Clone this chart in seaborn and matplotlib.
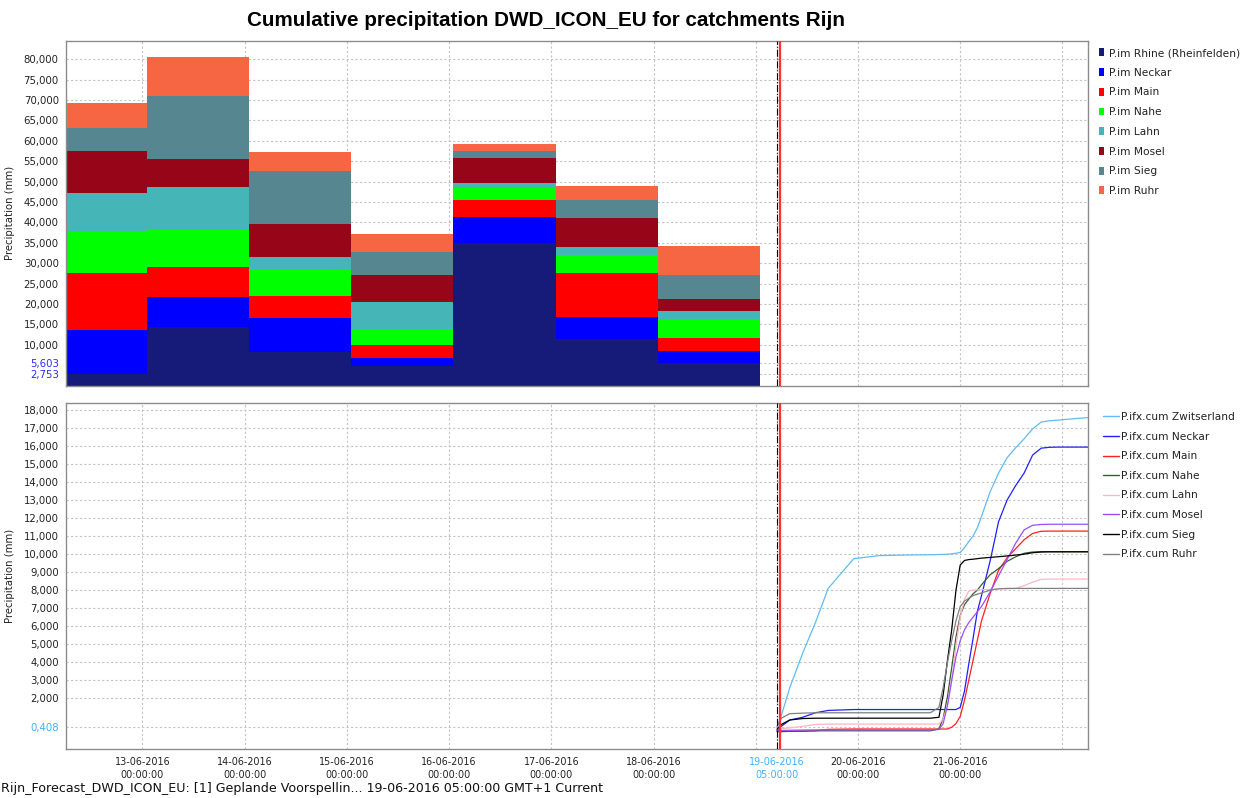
import numpy as np
import pandas as pd
import seaborn as sns
import matplotlib
matplotlib.use("Agg")
import matplotlib.pyplot as plt
from matplotlib.patches import Patch
from matplotlib.lines import Line2D

# forecast time (T0) and current time marker
t0 = pd.Timestamp("2016-06-19 05:00")
now = pd.Timestamp("2016-06-19 05:47")
x_start = pd.Timestamp("2016-06-12 06:00")
x_end = pd.Timestamp("2016-06-22 06:00")

# top chart: daily precipitation per catchment (mm), bars run 01:00 -> 01:00
bar_days = ["2016-06-12", "2016-06-13", "2016-06-14", "2016-06-15",
            "2016-06-16", "2016-06-17", "2016-06-18"]
catchments = ["Rhine (Rheinfelden)", "Neckar", "Main", "Nahe", "Lahn", "Mosel", "Sieg", "Ruhr"]
p_rhine = [2.753, 14.5, 8.3, 4.8, 34.9, 11.5, 5.603]
p_neckar = [10.95, 7.2, 8.2, 2.0, 6.4, 5.4, 2.9]
p_main = [13.8, 7.4, 5.4, 3.1, 4.2, 10.8, 3.3]
p_nahe = [10.3, 9.4, 6.6, 3.9, 3.0, 4.4, 4.5]
p_lahn = [9.4, 10.3, 3.0, 6.8, 1.1, 2.0, 2.0]
p_mosel = [10.2, 6.7, 8.1, 6.5, 6.1, 6.9, 2.9]
p_sieg = [5.8, 15.5, 13.1, 5.6, 1.9, 4.4, 5.9]
p_ruhr = [6.1, 9.6, 4.7, 4.6, 1.7, 3.6, 7.2]
bar_colors = ["#161a78", "#0000ff", "#ff0000", "#00ff00", "#45b5b8", "#970518", "#568690", "#f76643"]
top_marks = [2.753, 5.603]

# bottom chart: cumulative forecast precipitation (mm), hours after T0
hours = [0, 1, 3, 6, 9, 12, 18, 24, 30, 36, 38, 39, 40, 41, 42, 43,
         44, 45, 46, 47, 48, 50, 52, 54, 56, 58, 60, 62, 64, 66, 69, 73]
c_zwits = [0.37, 1.05, 2.6, 4.5, 6.2, 8.1, 9.75, 9.92, 9.95, 9.97, 9.98, 9.99, 10.0, 10.02, 10.05, 10.1,
           10.35, 10.7, 11.0, 11.45, 12.1, 13.45, 14.5, 15.35, 15.9, 16.4, 16.95, 17.33, 17.4, 17.44, 17.5, 17.58]
c_neckar = [0.19, 0.45, 0.8, 0.95, 1.2, 1.33, 1.38, 1.38, 1.38, 1.38, 1.38, 1.38, 1.38, 1.38, 1.38, 1.5,
            2.4, 3.9, 5.3, 6.8, 7.7, 9.6, 11.8, 13.0, 13.8, 14.5, 15.5, 15.88, 15.93, 15.94, 15.94, 15.94]
c_main = [0.2, 0.18, 0.18, 0.18, 0.2, 0.28, 0.3, 0.3, 0.3, 0.3, 0.3, 0.3, 0.3, 0.4, 0.6, 1.0,
          1.9, 3.0, 4.1, 5.2, 6.3, 7.8, 9.1, 9.8, 10.3, 10.8, 11.15, 11.27, 11.28, 11.28, 11.28, 11.28]
c_nahe = [0.15, 0.15, 0.17, 0.18, 0.2, 0.2, 0.2, 0.2, 0.2, 0.2, 0.3, 0.9, 2.1, 3.7, 5.4, 6.6,
          7.2, 7.5, 7.8, 8.0, 8.3, 8.85, 9.2, 9.6, 9.85, 10.05, 10.12, 10.14, 10.14, 10.14, 10.14, 10.14]
c_lahn = [0.3, 0.32, 0.36, 0.45, 0.55, 0.57, 0.57, 0.57, 0.57, 0.57, 0.58, 0.85, 1.6, 3.0, 4.9, 6.5,
          7.5, 7.95, 8.0, 8.02, 8.03, 8.05, 8.07, 8.08, 8.1, 8.25, 8.45, 8.6, 8.62, 8.62, 8.62, 8.62]
c_mosel = [0.22, 0.22, 0.23, 0.24, 0.25, 0.25, 0.25, 0.25, 0.25, 0.25, 0.27, 0.6, 1.6, 3.0, 4.3, 5.2,
           5.8, 6.2, 6.5, 6.8, 7.1, 7.9, 8.8, 9.7, 10.6, 11.35, 11.6, 11.65, 11.66, 11.66, 11.66, 11.66]
c_sieg = [0.28, 0.55, 0.8, 0.88, 0.9, 0.9, 0.9, 0.9, 0.9, 0.9, 0.95, 2.2, 4.1, 5.8, 8.0, 9.4,
          9.65, 9.7, 9.72, 9.75, 9.78, 9.82, 9.86, 9.9, 9.95, 10.0, 10.08, 10.12, 10.13, 10.13, 10.13, 10.13]
c_ruhr = [0.45, 0.9, 1.15, 1.18, 1.2, 1.2, 1.2, 1.2, 1.2, 1.2, 1.5, 2.6, 4.0, 5.2, 6.3, 7.1,
          7.4, 7.55, 7.7, 7.78, 7.85, 8.0, 8.08, 8.1, 8.1, 8.1, 8.1, 8.1, 8.1, 8.1, 8.1, 8.1]
line_names = ["Zwitserland", "Neckar", "Main", "Nahe", "Lahn", "Mosel", "Sieg", "Ruhr"]
line_colors = ["#5ebcf5", "#2020ff", "#ff2020", "#3a5f2f", "#ffb6c1", "#9b4dff", "#000000", "#808080"]
bottom_mark = 0.408

# x tick days (00:00), plus the T0 tick
tick_days = ["2016-06-13", "2016-06-14", "2016-06-15", "2016-06-16", "2016-06-17",
             "2016-06-18", "2016-06-20", "2016-06-21"]
grid_only_days = ["2016-06-19", "2016-06-22"]


def to_hours(ts):
    return (pd.to_datetime(ts) - t0) / pd.Timedelta(hours=1)


def fmt(v):
    return f"{v:,.3f}".replace(",", " ").replace(".", ",").replace(" ", ".")


# build long tables
bar_edges = list(to_hours(pd.to_datetime(bar_days) + pd.Timedelta(hours=1)))
bar_edges.append(bar_edges[-1] + 24)
bar_mid = [a + 12 for a in bar_edges[:-1]]
bar_vals = [p_rhine, p_neckar, p_main, p_nahe, p_lahn, p_mosel, p_sieg, p_ruhr]
df_bars = pd.concat([pd.DataFrame({"hour": bar_mid, "precip": v, "catchment": n})
                     for n, v in zip(catchments, bar_vals)], ignore_index=True)

line_vals = [c_zwits, c_neckar, c_main, c_nahe, c_lahn, c_mosel, c_sieg, c_ruhr]
df_lines = pd.concat([pd.DataFrame({"hour": hours, "precip": v, "series": n})
                      for n, v in zip(line_names, line_vals)], ignore_index=True)

sns.set_style("white")
plt.rcParams["font.family"] = ["DejaVu Sans"]

fig = plt.figure(figsize=(12.47, 7.98), dpi=100)
ax1 = fig.add_axes([0.0527, 0.5167, 0.8198, 0.4323])
ax2 = fig.add_axes([0.0527, 0.0614, 0.8198, 0.4332])

# seaborn stacks the first hue level on top, so reverse to keep Rhine at the bottom
sns.histplot(data=df_bars, x="hour", weights="precip", hue="catchment", hue_order=catchments[::-1],
             palette=dict(zip(catchments, bar_colors)), multiple="stack", bins=bar_edges,
             element="bars", linewidth=0, alpha=1, legend=False, ax=ax1, zorder=2)

sns.lineplot(data=df_lines, x="hour", y="precip", hue="series", hue_order=line_names,
             palette=dict(zip(line_names, line_colors)), linewidth=0.9, legend=False,
             estimator=None, ax=ax2, zorder=3)

x_ticks = list(to_hours(tick_days)) + [0.0]
x_labels = [pd.Timestamp(d).strftime("%d-%m-%Y\n%H:%M:%S") for d in tick_days] + \
           [t0.strftime("%d-%m-%Y\n%H:%M:%S")]
x_minor = list(to_hours(grid_only_days))

for ax in (ax1, ax2):
    ax.set_xlim(to_hours(x_start), to_hours(x_end))
    ax.set_xticks(x_ticks)
    ax.set_xticks(x_minor, minor=True)
    ax.grid(True, which="both", color="#c4c4c4", linestyle=(0, (2, 2)), linewidth=0.8, zorder=0)
    ax.set_axisbelow(True)
    for s in ax.spines.values():
        s.set_color("#8c8c8c")
        s.set_linewidth(1)
    ax.axvline(0, color="black", linestyle="-.", linewidth=0.8, zorder=4)
    ax.axvline(to_hours(now), color="#ff3030", linewidth=1.6, zorder=5)
    ax.tick_params(axis="y", length=3, width=0.8, color="#8c8c8c", labelsize=7.3, pad=2,
                   labelcolor="#222222")
    ax.tick_params(axis="x", which="minor", length=0)
    ax.set_xlabel("")
    ax.set_ylabel("Precipitation (mm)", fontsize=7.3, color="#222222")
    ax.yaxis.set_label_coords(-0.0495, 0.5)

# top chart axes
ax1.tick_params(axis="x", which="both", length=0, labelbottom=False)
ax1.set_ylim(0, 84.56)
top_ticks = list(range(10, 85, 5)) + top_marks
ax1.set_yticks(top_ticks)
ax1.set_yticklabels([fmt(v) for v in top_ticks])
for lbl, v in zip(ax1.get_yticklabels(), top_ticks):
    if v in top_marks:
        lbl.set_color("#2a2aff")

# bottom chart axes
ax2.set_ylim(-0.81, 18.37)
bot_ticks = list(range(2, 19)) + [bottom_mark]
ax2.set_yticks(bot_ticks)
ax2.set_yticklabels([fmt(v) for v in bot_ticks])
for lbl, v in zip(ax2.get_yticklabels(), bot_ticks):
    if v == bottom_mark:
        lbl.set_color("#3fb0ff")
ax2.set_xticklabels(x_labels)
ax2.tick_params(axis="x", which="major", length=4, width=0.8, color="#8c8c8c", labelsize=6.9,
                pad=2, labelcolor="#222222")
for lbl, v in zip(ax2.get_xticklabels(), x_ticks):
    lbl.set_linespacing(1.35)
    if v == 0.0:
        lbl.set_color("#3fb0ff")

# legends
top_handles = [Patch(facecolor=c, edgecolor="none") for c in bar_colors]
ax1.legend(top_handles, ["P.im " + n for n in catchments], loc="upper left",
           bbox_to_anchor=(1099 / 1247, 1 - 48 / 798), bbox_transform=fig.transFigure,
           frameon=False, fontsize=7.7, handlelength=0.45, handleheight=0.75,
           handletextpad=0.5, labelspacing=0.91, borderpad=0, borderaxespad=0,
           labelcolor="#222222")

bot_handles = [Line2D([], [], color=c, linewidth=1.0) for c in line_colors]
ax2.legend(bot_handles, ["P.ifx.cum " + n for n in line_names], loc="upper left",
           bbox_to_anchor=(1103 / 1247, 1 - 412 / 798), bbox_transform=fig.transFigure,
           frameon=False, fontsize=7.7, handlelength=1.45, handletextpad=0.2,
           labelspacing=0.9, borderpad=0, borderaxespad=0, labelcolor="#222222")

fig.text(546 / 1247, 1 - 21 / 798, "Cumulative precipitation DWD_ICON_EU for catchments Rijn",
         ha="center", va="center", fontsize=14.9, fontweight="bold", color="black",
         family=["Liberation Sans"])
fig.text(0.0005, 0.004, "Rijn_Forecast_DWD_ICON_EU: [1] Geplande Voorspellin... 19-06-2016 05:00:00 GMT+1 Current",
         ha="left", va="bottom", fontsize=9.05, color="#111111")

fig.savefig("out.png", dpi=100)
